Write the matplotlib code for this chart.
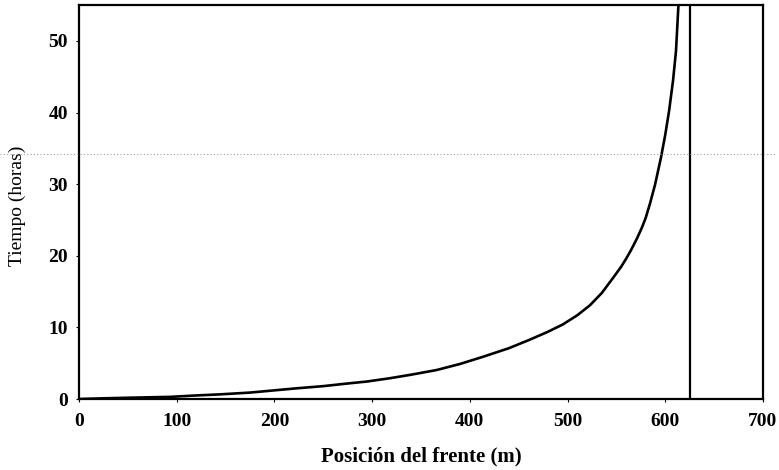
import matplotlib
matplotlib.use("Agg")
import matplotlib.pyplot as plt

# Front position (m) versus elapsed time (hours)
posicion = [0, 25, 50, 93, 120, 144, 175, 195, 223, 250, 270, 295, 318, 340,
            366, 390, 413.5, 440, 461.6, 480, 495, 510, 523, 535, 546.5, 555,
            560, 565, 571, 576, 580, 584.4, 589.5, 595.6, 600, 604, 608, 611,
            613.5]
tiempo = [0.0, 0.1, 0.18, 0.3, 0.5, 0.65, 0.9, 1.15, 1.5, 1.8, 2.1, 2.45, 2.9, 3.4,
          4.05, 4.9, 5.9, 7.1, 8.3, 9.4, 10.4, 11.7, 13.1, 14.8, 16.9, 18.5,
          19.6, 20.8, 22.4, 23.9, 25.3, 27.3, 29.9, 33.7, 36.9, 40.3, 44.5, 48.6,
          55.0]

# Limit position of the front
limite = 625

xticks = [0, 100, 200, 300, 400, 500, 600, 700]
yticks = [0, 10, 20, 30, 40, 50]

plt.rcParams['font.family'] = ['Liberation Serif', 'DejaVu Serif']

fig = plt.figure(figsize=(7.79, 4.70), dpi=100)
ax = fig.add_axes([0.1014, 0.151, 0.878, 0.838])

ax.plot(posicion, tiempo, color='black', lw=1.9, solid_joinstyle='round')
ax.axvline(limite, color='black', lw=1.6)

# faint dotted band across the sheet
fig.add_artist(plt.Line2D([0.0, 0.995], [0.672, 0.672], transform=fig.transFigure,
                          color='#a0a0a0', lw=0.8, ls=(0, (1, 2))))

ax.set_xlim(0, 700)
ax.set_ylim(0, 55)
ax.set_xticks(xticks)
ax.set_yticks(yticks)
ax.tick_params(axis='both', direction='out', length=2, width=0.8,
               labelsize=14, pad=6)
ax.tick_params(axis='x', pad=8)
for lab in ax.get_xticklabels() + ax.get_yticklabels():
    lab.set_fontweight('bold')

for s in ax.spines.values():
    s.set_linewidth(1.6)

ax.set_xlabel('Posición del frente (m)', fontsize=15, fontweight='bold', labelpad=12)
ax.set_ylabel('Tiempo (horas)', fontsize=14)
ax.yaxis.set_label_coords(-0.077, 0.49)

fig.savefig('out.png', dpi=100)
